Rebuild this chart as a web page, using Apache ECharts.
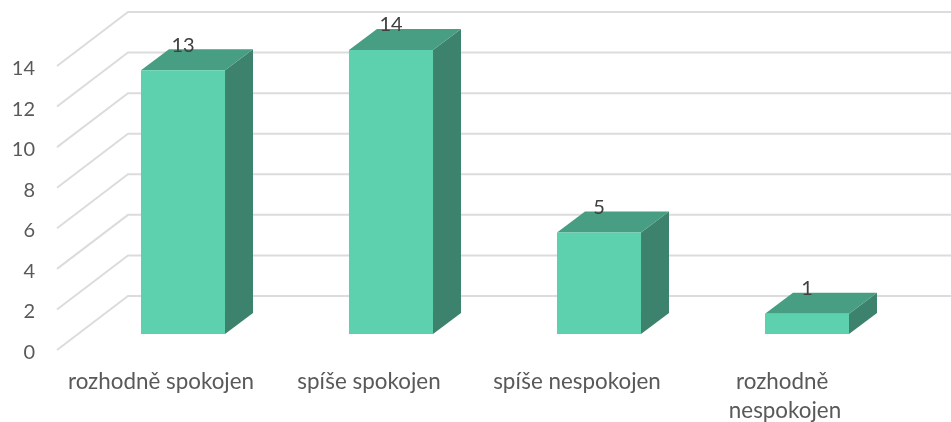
<!DOCTYPE html>
<html>
<head>
<meta charset="utf-8">
<style>
html,body{margin:0;padding:0;background:#fff}
#chart{width:951px;height:422px}
</style>
<script src="https://cdn.jsdelivr.net/npm/echarts@6/dist/echarts.min.js"></script>
</head>
<body>
<div id="chart"></div>
<script>
const categories = ['rozhodně spokojen', 'spíše spokojen', 'spíše nespokojen', 'rozhodně nespokojen']
const values = [13, 14, 5, 1]
const yTicks = [0, 2, 4, 6, 8, 10, 12, 14]

// depth of the fake 3d floor, in px
const wallDx = 71
const wallDy = 54
const barOffX = 22
const barOffY = 16
const barDx = 28
const barDy = 21
const fontName = 'Lato, "Open Sans", sans-serif'

function renderWall(params, api) {
    const p = api.coord([0, api.value(1)])
    const x0 = p[0] - api.size([1, 0])[0] / 2
    return {
        type: 'polyline',
        shape: {points: [[x0, p[1]], [x0 + wallDx, p[1] - wallDy], [api.getWidth(), p[1] - wallDy]]},
        style: {fill: 'none', stroke: '#dcdcdc', lineWidth: 2}
    }
}

function renderBar(params, api) {
    const top = api.coord([api.value(0), api.value(1)])
    const base = api.coord([api.value(0), 0])
    const w = api.size([1, 0])[0] * 0.404
    const l = top[0] + barOffX - w / 2
    const r = l + w
    const t = top[1] - barOffY
    const b = base[1] - barOffY
    return {
        type: 'group',
        children: [
            {
                type: 'polygon',
                shape: {points: [[r, t], [r + barDx, t - barDy], [r + barDx, b - barDy], [r, b]]},
                style: {fill: '#3c826c'}
            },
            {
                type: 'polygon',
                shape: {points: [[l, t], [l + barDx, t - barDy], [r + barDx, t - barDy], [r, t]]},
                style: {fill: '#479e82'}
            },
            {
                type: 'rect',
                shape: {x: l, y: t, width: w, height: b - t},
                style: {fill: '#5dd1ae'}
            },
            {
                type: 'text',
                style: {
                    text: String(api.value(1)),
                    x: l + w / 2,
                    y: t - 25,
                    align: 'center',
                    verticalAlign: 'middle',
                    fill: '#404040',
                    font: '20px ' + fontName
                }
            }
        ]
    }
}

const chart = echarts.init(document.getElementById('chart'))
chart.setOption({
    animation: false,
    grid: {left: 57, right: 62, top: 66, height: 284, outerBoundsMode: 'none'},
    xAxis: {
        type: 'category',
        data: categories,
        axisLine: {show: false},
        axisTick: {show: false},
        axisLabel: {
            color: '#595959',
            fontFamily: fontName,
            fontSize: 22.4,
            margin: 17,
            lineHeight: 29,
            width: 200,
            overflow: 'break',
            interval: 0
        }
    },
    yAxis: {
        type: 'value',
        min: 0,
        max: 14,
        interval: 2,
        splitLine: {show: false},
        axisLine: {show: false},
        axisTick: {show: false},
        axisLabel: {
            color: '#595959',
            fontFamily: fontName,
            fontSize: 20,
            margin: 22,
            verticalAlign: 'top',
            lineHeight: 5
        }
    },
    series: [
        {
            type: 'custom',
            renderItem: renderWall,
            encode: {x: 0, y: 1},
            data: yTicks.map(v => [0, v]),
            silent: true,
            z: 1
        },
        {
            type: 'custom',
            renderItem: renderBar,
            encode: {x: 0, y: 1},
            data: values.map((v, i) => [i, v]),
            z: 2
        }
    ]
})
window.addEventListener('resize', () => chart.resize())
</script>
</body>
</html>
